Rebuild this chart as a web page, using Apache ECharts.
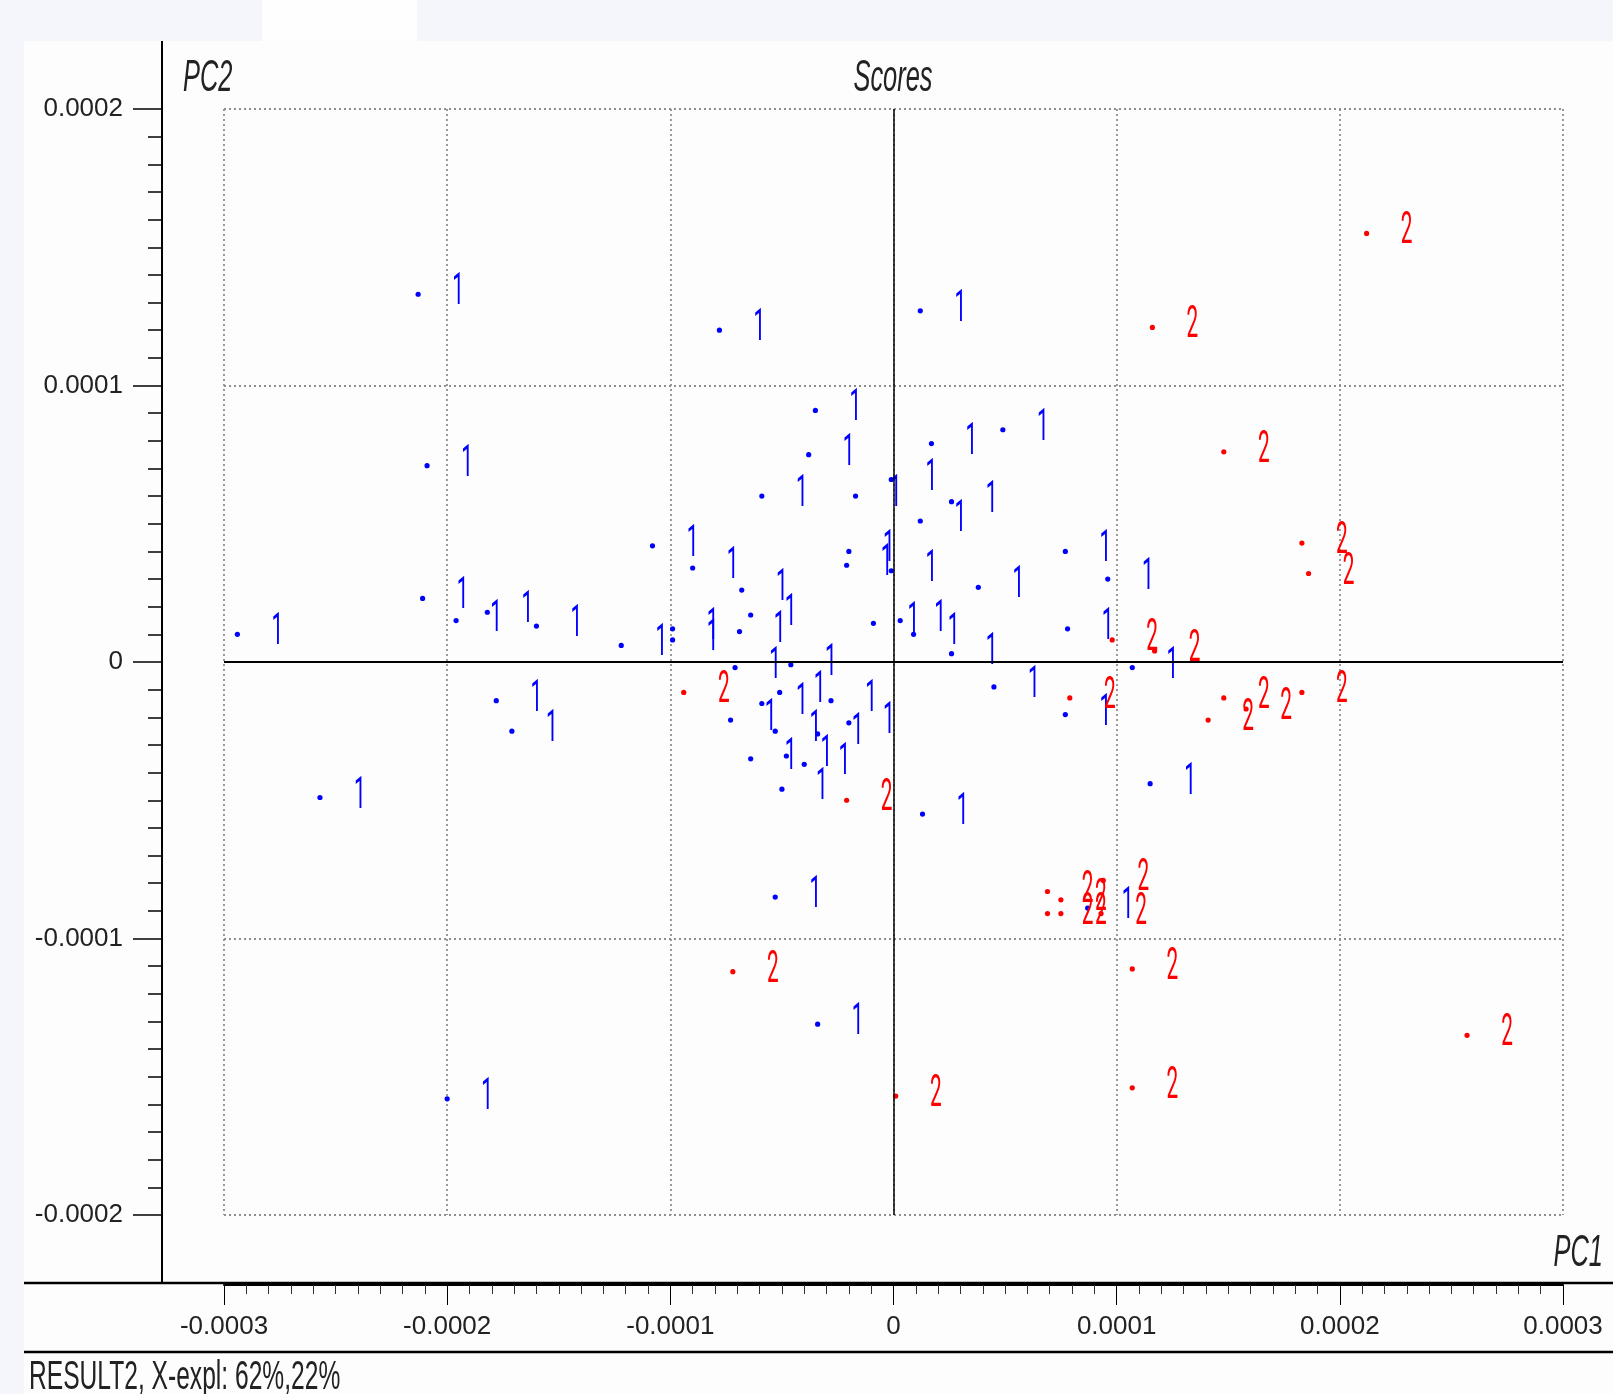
<!DOCTYPE html>
<html><head><meta charset="utf-8">
<script src="https://cdn.jsdelivr.net/npm/echarts/dist/echarts.min.js"></script>
<style>
html,body{margin:0;padding:0;background:#f4f6fb;overflow:hidden;}
#panel{position:absolute;left:24px;top:41px;width:1589px;height:1353px;background:#fdfdfd;}
#tab{position:absolute;left:262px;top:0;width:155px;height:41px;background:#fefefe;}
#chart{position:absolute;left:0;top:0;width:1613px;height:1394px;}
</style></head><body>
<div id="panel"></div><div id="tab"></div><div id="chart"></div>
<script>
// ---- data (scores) ----
const groupNames = ['1', '2'];
const g1PC1 = [-2.94e-4,-2.13e-4,-2.09e-4,-2.11e-4,-1.96e-4,-1.82e-4,-1.60e-4,-1.78e-4,-1.71e-4,-2.57e-4,
  -1.22e-4,-0.78e-4,0.12e-4,-0.35e-4,-0.38e-4,-0.59e-4,-0.17e-4,-0.01e-4,-1.08e-4,-0.90e-4,
  -0.20e-4,-0.21e-4,-0.68e-4,-0.64e-4,-0.69e-4,-0.99e-4,-0.99e-4,-0.09e-4,-0.46e-4,-0.71e-4,
  0.49e-4,0.17e-4,0.26e-4,0.12e-4,0.77e-4,0.96e-4,0.38e-4,-0.01e-4,0.03e-4,0.09e-4,
  0.26e-4,0.78e-4,1.07e-4,0.45e-4,0.77e-4,0.13e-4,1.15e-4,-0.59e-4,-0.73e-4,-0.51e-4,
  -0.28e-4,-0.53e-4,-0.34e-4,-0.20e-4,-0.48e-4,-0.64e-4,-0.40e-4,-0.50e-4,-0.53e-4,-0.34e-4,
  -2.00e-4,0.87e-4];
const g1PC2 = [0.10e-4,1.33e-4,0.71e-4,0.23e-4,0.15e-4,0.18e-4,0.13e-4,-0.14e-4,-0.25e-4,-0.49e-4,
  0.06e-4,1.20e-4,1.27e-4,0.91e-4,0.75e-4,0.60e-4,0.60e-4,0.66e-4,0.42e-4,0.34e-4,
  0.40e-4,0.35e-4,0.26e-4,0.17e-4,0.11e-4,0.12e-4,0.08e-4,0.14e-4,-0.01e-4,-0.02e-4,
  0.84e-4,0.79e-4,0.58e-4,0.51e-4,0.40e-4,0.30e-4,0.27e-4,0.33e-4,0.15e-4,0.10e-4,
  0.03e-4,0.12e-4,-0.02e-4,-0.09e-4,-0.19e-4,-0.55e-4,-0.44e-4,-0.15e-4,-0.21e-4,-0.11e-4,
  -0.14e-4,-0.25e-4,-0.26e-4,-0.22e-4,-0.34e-4,-0.35e-4,-0.37e-4,-0.46e-4,-0.85e-4,-1.31e-4,
  -1.58e-4,-0.89e-4];
const g2PC1 = [2.12e-4,1.16e-4,1.48e-4,1.83e-4,1.86e-4,0.98e-4,1.17e-4,0.79e-4,1.41e-4,1.48e-4,
  1.58e-4,1.83e-4,-0.94e-4,-0.21e-4,0.69e-4,0.69e-4,0.75e-4,0.75e-4,0.94e-4,0.93e-4,
  1.07e-4,1.07e-4,0.01e-4,-0.72e-4,2.57e-4];
const g2PC2 = [1.55e-4,1.21e-4,0.76e-4,0.43e-4,0.32e-4,0.08e-4,0.04e-4,-0.13e-4,-0.21e-4,-0.13e-4,
  -0.17e-4,-0.11e-4,-0.11e-4,-0.50e-4,-0.83e-4,-0.91e-4,-0.86e-4,-0.91e-4,-0.79e-4,-0.91e-4,
  -1.11e-4,-1.54e-4,-1.57e-4,-1.12e-4,-1.35e-4];

const xTicks = [-0.0003,-0.0002,-0.0001,0,0.0001,0.0002,0.0003];
const xTickLabels = ['-0.0003','-0.0002','-0.0001','0','0.0001','0.0002','0.0003'];
const yTicks = [-0.0002,-0.0001,0,0.0001,0.0002];
const yTickLabels = ['-0.0002','-0.0001','0','0.0001','0.0002'];

const titleText = 'Scores';
const xName = 'PC1';
const yName = 'PC2';
const footText = 'RESULT2, X-expl: 62%,22%';

// ---- styling ----
const SANS = '"Liberation Sans",Arial,sans-serif';
const LABELFONT = 'Roboto,"Liberation Sans",sans-serif';
const BLUE = '#0000ff', RED = '#ff0000';

function tickFmt(ticks, labels) {
  return function (v) {
    const i = ticks.findIndex(t => Math.abs(t - v) < 1e-9);
    return i >= 0 ? labels[i] : '';
  };
}
function makeRender(color, tag) {
  return function (params, api) {
    const p = api.coord([api.value(0), api.value(1)]);
    return {
      type: 'group',
      children: [
        { type: 'circle', shape: { cx: p[0], cy: p[1], r: 2.6 }, style: { fill: color } },
        { type: 'text', x: p[0] + 40, y: p[1] - 1, scaleX: 0.8, scaleY: 1.7,
          style: { text: tag, fill: color, font: '26px ' + LABELFONT, align: 'center', verticalAlign: 'middle' } }
      ]
    };
  };
}
const gridLine = { show: true, lineStyle: { type: [2, 3], color: '#8f8f8f', width: 1.8 } };

const chart = echarts.init(document.getElementById('chart'), null, { renderer: 'canvas' });
chart.setOption({
  animation: false,
  backgroundColor: 'transparent',
  grid: { left: 224, right: 50, top: 109, bottom: 179, containLabel: false },
  xAxis: {
    type: 'value', min: -0.0003, max: 0.0003, interval: 0.0001, position: 'bottom', offset: 70,
    axisLine: { show: true, onZero: false, lineStyle: { color: '#000', width: 2 } },
    axisTick: { show: true, inside: false, length: 20, lineStyle: { color: '#000', width: 1 } },
    minorTick: { show: true, splitNumber: 10, length: 9, lineStyle: { color: '#333', width: 1 } },
    axisLabel: { margin: 29, fontSize: 26, fontFamily: SANS, color: '#222', formatter: tickFmt(xTicks, xTickLabels) },
    splitLine: gridLine
  },
  yAxis: {
    type: 'value', min: -0.0002, max: 0.0002, interval: 0.0001, position: 'left', offset: 62,
    axisLine: { show: true, onZero: false, lineStyle: { color: '#000', width: 2 } },
    axisTick: { show: true, inside: false, length: 29, lineStyle: { color: '#000', width: 1.5 } },
    minorTick: { show: true, splitNumber: 10, length: 14, lineStyle: { color: '#000', width: 1.5 } },
    axisLabel: { margin: 39, fontSize: 26, fontFamily: SANS, color: '#222', formatter: tickFmt(yTicks, yTickLabels) },
    splitLine: gridLine
  },
  series: [
    {
      type: 'custom', name: groupNames[0],
      data: g1PC1.map((x, i) => [x, g1PC2[i]]),
      encode: { x: 0, y: 1 },
      renderItem: makeRender(BLUE, groupNames[0]),
      markLine: {
        silent: true, symbol: 'none', label: { show: false },
        lineStyle: { color: '#000', type: 'solid', width: 2 },
        data: [{ yAxis: 0 }, { xAxis: 0, lineStyle: { color: '#000', type: 'solid', width: 1.5 } }]
      },
      z: 3
    },
    {
      type: 'custom', name: groupNames[1],
      data: g2PC1.map((x, i) => [x, g2PC2[i]]),
      encode: { x: 0, y: 1 },
      renderItem: makeRender(RED, groupNames[1]),
      z: 4
    }
  ],
  graphic: [
    { type: 'line', shape: { x1: 162, y1: 41, x2: 162, y2: 1283 }, style: { stroke: '#000', lineWidth: 2 } },
    { type: 'line', shape: { x1: 24, y1: 1283, x2: 1613, y2: 1283 }, style: { stroke: '#000', lineWidth: 2.5 } },
    { type: 'line', shape: { x1: 24, y1: 1352, x2: 1613, y2: 1352 }, style: { stroke: '#000', lineWidth: 2.5 } },
    { type: 'text', x: 893, y: 78, scaleX: 0.82, scaleY: 1.45,
      style: { text: titleText, font: 'italic 31px ' + SANS, fill: '#222', align: 'center', verticalAlign: 'middle' } },
    { type: 'text', x: 183, y: 78, scaleX: 0.82, scaleY: 1.45,
      style: { text: yName, font: 'italic 31px ' + SANS, fill: '#222', align: 'left', verticalAlign: 'middle' } },
    { type: 'text', x: 1603, y: 1253, scaleX: 0.82, scaleY: 1.45,
      style: { text: xName, font: 'italic 31px ' + SANS, fill: '#222', align: 'right', verticalAlign: 'middle' } },
    { type: 'text', x: 29, y: 1378, scaleX: 0.82, scaleY: 1.35,
      style: { text: footText, font: '30px ' + SANS, fill: '#222', align: 'left', verticalAlign: 'middle' } }
  ]
});
</script>
</body></html>
